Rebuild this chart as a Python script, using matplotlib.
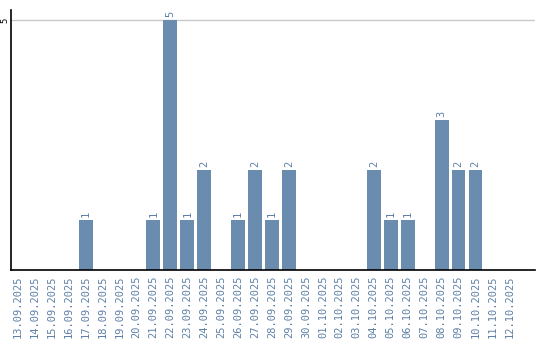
import pandas as pd
import matplotlib.pyplot as plt

dates = pd.date_range("2025-09-13", "2025-10-12", freq="D")
labels = [d.strftime("%d.%m.%Y") for d in dates]
counts = {
    "17.09.2025": 1, "21.09.2025": 1, "22.09.2025": 5, "23.09.2025": 1,
    "24.09.2025": 2, "26.09.2025": 1, "27.09.2025": 2, "28.09.2025": 1,
    "29.09.2025": 2, "04.10.2025": 2, "05.10.2025": 1, "06.10.2025": 1,
    "08.10.2025": 3, "09.10.2025": 2, "10.10.2025": 2,
}
values = [counts.get(l, 0) for l in labels]

bar_color = "#6a8caf"
text_color = "#5e80a6"

fig = plt.figure(figsize=(5.4, 3.4), dpi=100)
ax = fig.add_axes([0.0204, 0.206, 0.970, 0.765])

x = list(range(len(labels)))
ax.bar(x, values, width=0.82, color=bar_color, zorder=2)
for xi, v in zip(x, values):
    if v > 0:
        ax.text(xi, v + 0.05, str(v), rotation=90, ha="center", va="bottom",
                color=text_color, fontsize=7.5, family="DejaVu Sans Mono")

ax.set_xlim(-0.4, 30.5)
ax.set_ylim(0, 5.2)
ax.set_xticks(x)
ax.set_xticklabels(labels, rotation=90, color=text_color, fontsize=7.5,
                   family="DejaVu Sans Mono")
ax.set_yticks([5])
ax.set_yticklabels(["5"], rotation=90, fontsize=6.5, va="center",
                   family="DejaVu Sans Mono")
ax.tick_params(axis="x", length=0, pad=4)
ax.tick_params(axis="y", length=0, pad=1)
ax.axhline(5, color="#c8c8c8", lw=1, zorder=1)
for s in ["top", "right"]:
    ax.spines[s].set_visible(False)
ax.spines["left"].set_linewidth(1.2)
ax.spines["bottom"].set_linewidth(1.2)

plt.savefig("out.png")
